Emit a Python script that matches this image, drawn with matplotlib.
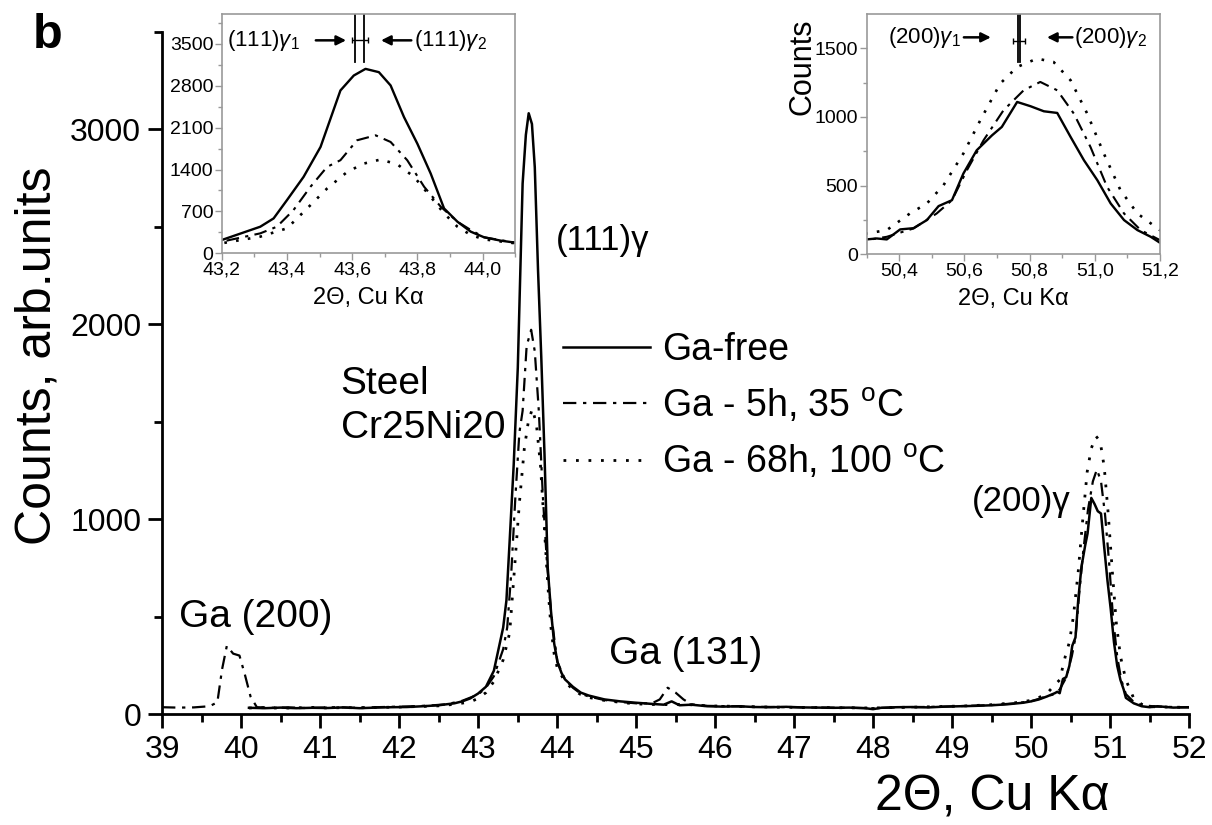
import matplotlib
matplotlib.use("Agg")
import matplotlib.pyplot as plt

plt.rcParams['font.family'] = ['Liberation Sans', 'DejaVu Sans']
plt.rcParams['mathtext.fontset'] = 'custom'
plt.rcParams['mathtext.rm'] = 'Liberation Sans'
plt.rcParams['mathtext.it'] = 'Liberation Sans:italic'

# ---------------- data ----------------
x_free = [40.1, 40.3, 40.5, 40.7, 40.9, 41.1, 41.3, 41.5, 41.7, 41.9, 42.1, 42.3, 42.5, 42.7,
          42.8, 42.9, 43.0, 43.1, 43.2, 43.318, 43.359, 43.4, 43.451, 43.503, 43.564, 43.605,
          43.641, 43.682, 43.718, 43.759, 43.8, 43.841, 43.882, 43.923, 43.964, 44.005, 44.056,
          44.1, 44.2, 44.3, 44.4, 44.5, 44.6, 44.8, 45.0, 45.2, 45.35, 45.45, 45.55, 45.7, 45.9,
          46.1, 46.3, 46.5, 46.7, 46.9, 47.1, 47.3, 47.5, 47.7, 47.9, 48.0, 48.1, 48.3, 48.5,
          48.7, 48.9, 49.1, 49.3, 49.5, 49.7, 49.9, 50.0, 50.1, 50.2, 50.3, 50.331, 50.362,
          50.403, 50.444, 50.485, 50.521, 50.562, 50.597, 50.638, 50.685, 50.715, 50.762,
          50.803, 50.844, 50.885, 50.926, 50.967, 51.008, 51.049, 51.09, 51.131, 51.172, 51.2,
          51.3, 51.4, 51.5, 51.6, 51.8, 52.0]
y_free = [32, 30, 33, 30, 32, 31, 34, 30, 33, 35, 36, 40, 45, 55,
          65, 80, 105, 140, 222, 444, 583, 889, 1278, 1778, 2722, 2972,
          3083, 3028, 2806, 2278, 1833, 1333, 750, 528, 361, 267, 211,
          178, 140, 110, 95, 85, 75, 65, 58, 52, 48, 65, 45, 48, 40,
          38, 40, 36, 35, 37, 34, 33, 32, 33, 30, 25, 32, 35, 36,
          34, 38, 40, 42, 45, 50, 58, 65, 75, 90, 107, 114, 107,
          180, 189, 248, 350, 393, 587, 757, 866, 927, 1109,
          1078, 1041, 1029, 854, 684, 539, 369, 248, 175, 126, 83,
          55, 40, 35, 40, 33, 35]

x_5h = [39.0, 39.2, 39.4, 39.6, 39.7, 39.76, 39.82, 39.9, 39.98, 40.05, 40.12, 40.2, 40.4,
        40.6, 40.8, 41.0, 41.2, 41.4, 41.6, 41.8, 42.0, 42.2, 42.4, 42.6, 42.8, 43.0, 43.1,
        43.2, 43.318, 43.369, 43.42, 43.472, 43.523, 43.564, 43.615, 43.672, 43.718, 43.769,
        43.821, 43.872, 43.923, 43.964, 44.005, 44.1, 44.2, 44.3, 44.4, 44.6, 44.8, 45.0,
        45.2, 45.3, 45.4, 45.5, 45.6, 45.7, 45.9, 46.2, 46.5, 46.8, 47.1, 47.4, 47.7, 48.0,
        48.3, 48.6, 48.9, 49.2, 49.5, 49.8, 50.0, 50.1, 50.2, 50.3, 50.362, 50.444, 50.515,
        50.562, 50.608, 50.659, 50.72, 50.782, 50.833, 50.885, 50.936, 50.987, 51.038, 51.09,
        51.141, 51.2, 51.3, 51.4, 51.6, 51.8, 52.0]
y_5h = [35, 33, 34, 40, 60, 230, 350, 310, 300, 200, 90, 35, 32,
        34, 31, 33, 35, 32, 34, 36, 38, 40, 44, 50, 68, 100, 135,
        194, 333, 444, 722, 1111, 1444, 1556, 1889, 1972, 1861, 1556,
        1111, 778, 528, 389, 267, 178, 135, 105, 90, 72, 62, 55,
        55, 75, 135, 110, 75, 50, 42, 40, 37, 36, 34, 33, 32, 30,
        34, 36, 38, 42, 46, 55, 66, 78, 92, 102, 126, 187, 296,
        393, 612, 830, 1048, 1194, 1255, 1194, 1024, 781, 490, 296,
        175, 102, 62, 45, 38, 36, 34]

x_68h = [40.1, 40.3, 40.5, 40.7, 40.9, 41.1, 41.3, 41.5, 41.7, 41.9, 42.1, 42.3, 42.5, 42.7,
         42.9, 43.0, 43.1, 43.2, 43.318, 43.4, 43.462, 43.523, 43.585, 43.636, 43.687, 43.738,
         43.79, 43.841, 43.882, 43.923, 43.964, 44.005, 44.1, 44.2, 44.3, 44.4, 44.6, 44.8,
         45.0, 45.3, 45.6, 45.9, 46.2, 46.5, 46.8, 47.1, 47.4, 47.7, 48.0, 48.3, 48.6, 48.9,
         49.2, 49.5, 49.8, 50.0, 50.1, 50.2, 50.3, 50.362, 50.433, 50.485, 50.536, 50.597,
         50.649, 50.71, 50.762, 50.823, 50.874, 50.926, 50.977, 51.028, 51.079, 51.131, 51.2,
         51.3, 51.4, 51.5, 51.7, 52.0]
y_68h = [31, 33, 30, 32, 34, 31, 33, 32, 34, 35, 37, 39, 42, 50,
         62, 80, 110, 167, 278, 417, 750, 1083, 1361, 1500, 1567, 1489,
         1278, 944, 667, 444, 306, 233, 167, 125, 100, 85, 70, 60,
         52, 48, 50, 42, 40, 37, 35, 34, 33, 32, 31, 34, 36, 39,
         42, 48, 58, 70, 85, 105, 150, 175, 296, 369, 502, 733,
         976, 1243, 1364, 1425, 1400, 1267, 1024, 733, 466, 296, 175,
         80, 50, 38, 36, 34]

labels = ['Ga-free', 'Ga - 5h, 35 $^{\\mathrm{o}}$C', 'Ga - 68h, 100 $^{\\mathrm{o}}$C']

main_xticks = list(range(39, 53))
main_yticks = [0, 1000, 2000, 3000]
in1_xticks = [43.2, 43.4, 43.6, 43.8, 44.0]
in1_yticks = [0, 700, 1400, 2100, 2800, 3500]
in2_xticks = [50.4, 50.6, 50.8, 51.0, 51.2]
in2_yticks = [0, 500, 1000, 1500]

styles = [dict(ls='-', lw=1.8, color='black'),
          dict(ls=(0, (6, 3, 1.5, 3)), lw=1.6, color='black'),
          dict(ls=(0, (1, 3.5)), lw=2.0, color='black')]
series = [(x_free, y_free), (x_5h, y_5h), (x_68h, y_68h)]

fig = plt.figure(figsize=(12.12, 8.25), dpi=100)
ax = fig.add_axes([0.1337, 0.1345, 0.8474, 0.8267])
for (xs, ys), st, lab in zip(series, styles, labels):
    ax.plot(xs, ys, label=lab, **st)
ax.set_xlim(39, 52)
ax.set_ylim(0, 3500)
ax.spines['top'].set_visible(False)
ax.spines['right'].set_visible(False)
for s in ['left', 'bottom']:
    ax.spines[s].set_linewidth(2)
ax.set_xticks(main_xticks)
ax.set_xticks([v + 0.5 for v in main_xticks[:-1]], minor=True)
ax.set_yticks(main_yticks)
ax.set_yticks([500, 1500, 2500, 3500], minor=True)
ax.tick_params(which='major', length=10, width=2, labelsize=23, direction='out', pad=5)
ax.tick_params(which='minor', length=6, width=2, direction='out')
ax.set_xlabel('2Θ, Cu Kα', fontsize=36)
ax.xaxis.set_label_coords(0.808, -0.088)
ax.set_ylabel('Counts, arb.units', fontsize=36)
ax.yaxis.set_label_coords(-0.099, 0.526)

leg = ax.legend(loc='upper left', bbox_to_anchor=(0.358, 0.61), frameon=False, fontsize=27,
                handlelength=2.32, handletextpad=0.3, labelspacing=0.49)

fig.text(0.281, 0.508, 'Steel\nCr25Ni20', fontsize=28,
         linespacing=1.3, va='center', ha='left')
ax.text(43.99, 2432, '(111)γ', fontsize=25, ha='left', va='center')
ax.text(50.506, 1093, '(200)γ', fontsize=25, ha='right', va='center')
ax.text(40.18, 498, 'Ga (200)', fontsize=28, ha='center', va='center')
ax.text(45.63, 308, 'Ga (131)', fontsize=28, ha='center', va='center')
fig.text(0.027, 0.942, 'b', fontsize=35, fontweight='bold', ha='left', va='baseline')


def inset(rect, xlim, ylim, xt, yt, xminor, yminor, ylabel=None):
    a = fig.add_axes(rect)
    for (xs, ys), st in zip(series, styles):
        kw = dict(st)
        kw['lw'] = st['lw'] * 0.95
        a.plot(xs, ys, **kw)
    a.set_xlim(*xlim)
    a.set_ylim(*ylim)
    a.set_xticks(xt)
    a.set_xticklabels([f'{v:.1f}'.replace('.', ',') for v in xt])
    a.set_xticks(xminor, minor=True)
    a.set_yticks(yt)
    a.set_yticks(yminor, minor=True)
    for s in a.spines.values():
        s.set_color('#999999')
        s.set_linewidth(1.2)
    a.tick_params(which='major', length=5, width=1, labelsize=14, colors='#999999',
                  labelcolor='black', pad=1)
    a.tick_params(which='minor', length=3, width=1, colors='#999999')
    a.set_xlabel('2Θ, Cu Kα', fontsize=17, labelpad=6)
    if ylabel:
        a.set_ylabel(ylabel, fontsize=22, labelpad=2)
        a.yaxis.set_label_coords(-0.168, 0.78)
    return a


a1 = inset([0.183, 0.693, 0.242, 0.290], (43.2, 44.1), (0, 4000), in1_xticks, in1_yticks,
           [43.3, 43.5, 43.7, 43.9, 44.1], [350, 1050, 1750, 2450, 3150, 3850])
a1.plot([43.61, 43.61], [3200, 4000], color='black', lw=1.3)
a1.plot([43.636, 43.636], [3200, 4000], color='black', lw=1.3)
a1.errorbar([43.623], [3560], xerr=[0.025], color='black', lw=1, capsize=2)
a1.annotate('', xy=(43.59, 3560), xytext=(43.48, 3560),
            arrowprops=dict(arrowstyle='-|>', color='black', lw=1.8, mutation_scale=14))
a1.annotate('', xy=(43.68, 3560), xytext=(43.79, 3560),
            arrowprops=dict(arrowstyle='-|>', color='black', lw=1.8, mutation_scale=14))
a1.text(43.215, 3560, '(111)$\\mathit{\\gamma}_1$', fontsize=16, va='center', ha='left')
a1.text(43.79, 3560, '(111)$\\mathit{\\gamma}_2$', fontsize=16, va='center', ha='left')

a2 = inset([0.715, 0.692, 0.242, 0.291], (50.3, 51.2), (0, 1750), in2_xticks, in2_yticks,
           [50.3, 50.5, 50.7, 50.9, 51.1], [250, 750, 1250], ylabel='Counts')
a2.plot([50.764, 50.764], [1400, 1750], color='black', lw=1.3)
a2.plot([50.772, 50.772], [1400, 1750], color='black', lw=1.3)
a2.errorbar([50.767], [1555], xerr=[0.018], color='black', lw=1, capsize=2)
a2.annotate('', xy=(50.69, 1580), xytext=(50.59, 1580),
            arrowprops=dict(arrowstyle='-|>', color='black', lw=1.8, mutation_scale=14))
a2.annotate('', xy=(50.845, 1580), xytext=(50.94, 1580),
            arrowprops=dict(arrowstyle='-|>', color='black', lw=1.8, mutation_scale=14))
a2.text(50.59, 1580, '(200)$\\mathit{\\gamma}_1$', fontsize=16, va='center', ha='right')
a2.text(50.935, 1580, '(200)$\\mathit{\\gamma}_2$', fontsize=16, va='center', ha='left')

fig.savefig('out.png', dpi=100)
